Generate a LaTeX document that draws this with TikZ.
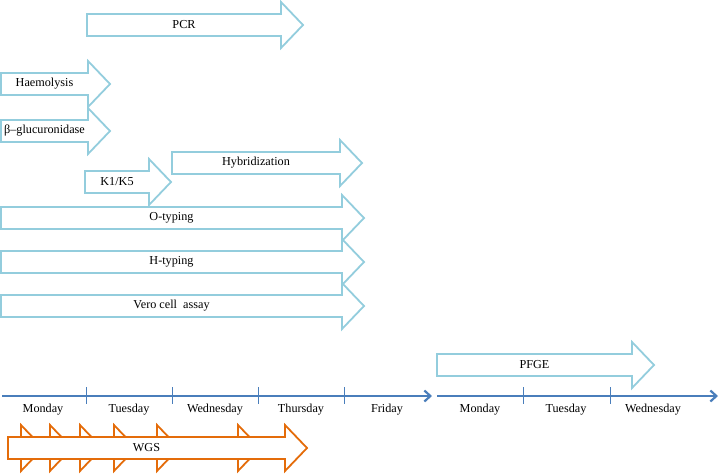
\documentclass[tikz,border=0pt]{standalone}
\usepackage{fontspec}
\setmainfont{Liberation Serif}
\usetikzlibrary{arrows.meta}
\definecolor{stageblue}{RGB}{147,205,221}
\definecolor{wgsorange}{RGB}{228,108,10}
\definecolor{axisblue}{RGB}{74,126,187}

% outline of a block arrow: style, shaft start, head start, centre y
\newcommand{\blockoutline}[4]{%
	\draw[#1] (#2,#4-11) -- (#3,#4-11) -- (#3,#4-23) -- (#3+22,#4)
		-- (#3,#4+23) -- (#3,#4+11) -- (#2,#4+11) -- cycle;
}
% block arrow with its label: name, style, shaft start, head start, centre y, text
\newcommand{\blockarrow}[6]{%
	\blockoutline{#2}{#3}{#4}{#5}
	\node[stagetext] (#1) at ({(#3+#4)/2},#5) {#6};
}

\begin{document}
\begin{tikzpicture}[x=1pt, y=-1pt,
		stagearrow/.style={draw=stageblue, fill=white, line width=1.8pt, line join=miter},
		wgsarrow/.style={draw=wgsorange, fill=white, line width=1.8pt, line join=miter},
		stagetext/.style={inner sep=0pt, font=\fontsize{12.2pt}{14pt}\selectfont},
		daylabel/.style={inner sep=0pt, font=\fontsize{12.2pt}{14pt}\selectfont},
		timeline/.style={draw=axisblue, line width=2.2pt, -{Straight Barb[length=6pt,width=11pt]}},
		daytick/.style={draw=axisblue, line width=0.9pt}
		]
		\useasboundingbox (0,0) rectangle (720,475);
		
		\blockarrow{pcr}{stagearrow}{87}{281}{25}{PCR}
		\blockarrow{haem}{stagearrow}{1}{88}{84}{Haemolysis}
		\blockarrow{gluc}{stagearrow}{1}{88}{131}{β–glucuronidase}
		\blockarrow{hybr}{stagearrow}{172}{340}{163}{Hybridization}
		\blockarrow{kfive}{stagearrow}{85}{149}{182}{K1/K5}
		\blockarrow{otyp}{stagearrow}{1}{342}{218}{O-typing}
		\blockarrow{htyp}{stagearrow}{1}{342}{262}{H-typing}
		\blockarrow{vero}{stagearrow}{1}{342}{306}{Vero cell\ \ assay}
		\blockarrow{pfge}{stagearrow}{437}{632}{365}{PFGE}
		
		% first week
		\coordinate (wkAstart) at (2,396);
		\coordinate (wkAend) at (432,396);
		\draw[timeline] (wkAstart) -- (wkAend);
		\foreach \x in {86,172,258,344}
			\draw[daytick] (\x,387) -- (\x,404);
		\foreach \d/\x [count=\i] in {Monday/43, Tuesday/129, Wednesday/215, Thursday/301, Friday/387}
			\node[daylabel] (dayA\i) at (\x,410) {\d};
		
		% second week
		\coordinate (wkBstart) at (437,396);
		\coordinate (wkBend) at (718,396);
		\draw[timeline] (wkBstart) -- (wkBend);
		\foreach \x in {523,610}
			\draw[daytick] (\x,387) -- (\x,404);
		\foreach \d/\x [count=\i] in {Monday/480, Tuesday/566, Wednesday/653}
			\node[daylabel] (dayB\i) at (\x,410) {\d};
		
		% WGS
		\foreach \hx in {21,50,80,114,157,238}{
			\blockoutline{wgsarrow}{8}{\hx}{448}
		}
		\blockarrow{wgs}{wgsarrow}{8}{285}{448}{WGS}
	\end{tikzpicture}
\end{document}
